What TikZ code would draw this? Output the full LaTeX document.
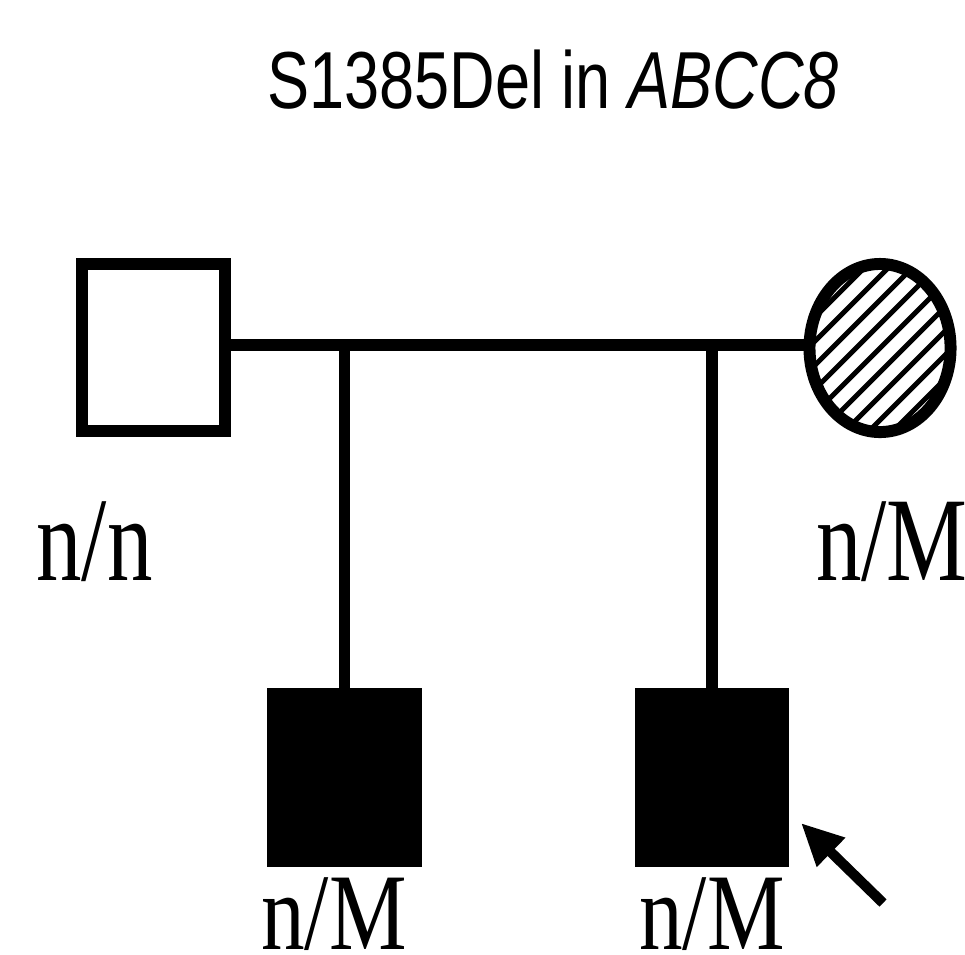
\documentclass[tikz,border=0pt]{standalone}
\usepackage{fontspec}
\setmainfont{Liberation Serif}
\setsansfont{Liberation Sans}
\usepackage{tikz}
\usetikzlibrary{arrows.meta,positioning,calc,shapes.geometric}

\newcommand{\squeeze}[1]{\scalebox{0.76}[1]{#1}}

\begin{document}
\begin{tikzpicture}[
    x=0.01cm, y=-0.01cm,
    person/.style={
        draw,
        line width=3.4pt,
        inner sep=0pt,
        minimum width=1.42cm,
        minimum height=1.67cm
    },
    male/.style={person, rectangle},
    female/.style={person, ellipse, minimum width=1.41cm, minimum height=1.68cm},
    affected/.style={fill=black},
    geno/.style={anchor=base, inner sep=0pt, font=\fontsize{34}{34}\selectfont},
    genolow/.style={geno, font=\fontsize{31}{31}\selectfont},
    title/.style={anchor=base, inner sep=0pt, font=\sffamily\fontsize{23}{23}\selectfont},
    line/.style={line width=3.4pt},
    hatch/.style={line width=1.4pt},
    proband/.style={-{Triangle[length=0.42cm,width=0.38cm]}, line width=2.9pt}
]
\useasboundingbox (0,0) rectangle (965,954);

\node[title] (head) at (553,108) {\scalebox{0.78}[1]{S1385Del in \textit{ABCC8}}};

\node[male] (father) at (153.5,347.5) {};
\node[female] (mother) at (880,348) {};
\node[male, affected] (son1) at (344.5,777.5) {};
\node[male, affected] (son2) at (712,777.5) {};

% hatching of the carrier mother
\begin{scope}
    \clip (mother.center) ellipse [x radius=0.70cm, y radius=0.84cm];
    \foreach \k in {-10,...,10}
        \draw[hatch] ($(mother.center)+(\k*24-120,120)$) -- ++(240,-240);
\end{scope}

\coordinate (mate) at (0,345);
\draw[line] (father.east |- mate) -- (mother.west |- mate);
\draw[line] (son1.north) -- (son1.north |- mate);
\draw[line] (son2.north) -- (son2.north |- mate);

\node[geno] (gfather) at (94.5,580) {\squeeze{n/n}};
\node[geno] (gmother) at (892,580) {\squeeze{n/M}};
\node[genolow] (gson1) at (334,949) {\scalebox{0.8}[1]{n/M}};
\node[genolow] (gson2) at (712,949) {\scalebox{0.8}[1]{n/M}};

\coordinate (tail) at (883,903);
\draw[proband] (tail) -- ($(son2.south east)+(12,-44)$);
\end{tikzpicture}
\end{document}
